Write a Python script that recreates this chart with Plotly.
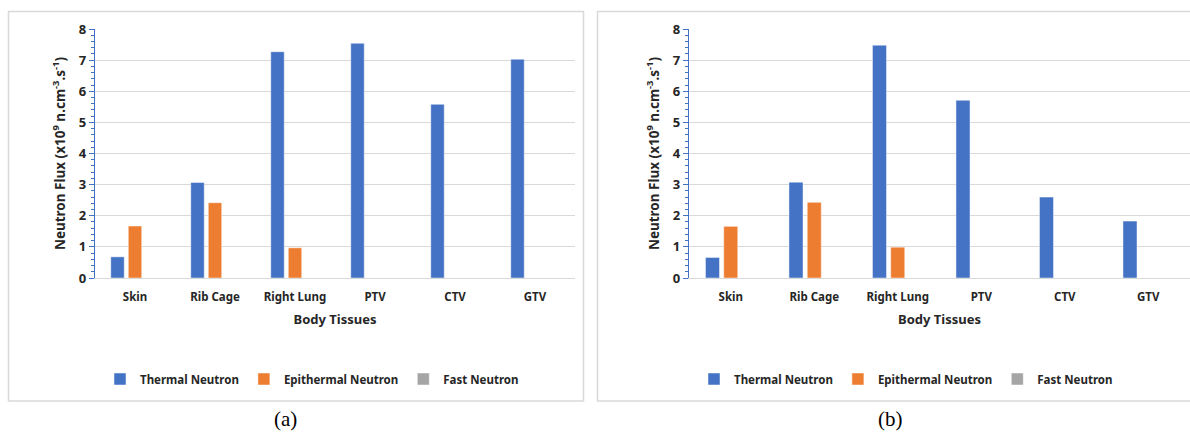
import plotly.graph_objects as go

categories = ["Skin", "Rib Cage", "Right Lung", "PTV", "CTV", "GTV"]
series_names = ["Thermal Neutron", "Epithermal Neutron", "Fast Neutron"]

a_thermal = [0.68, 3.07, 7.27, 7.54, 5.58, 7.03]
a_epithermal = [1.67, 2.42, 0.97, 0.0, 0.0, 0.0]
a_fast = [0.0, 0.0, 0.0, 0.0, 0.0, 0.0]

b_thermal = [0.66, 3.08, 7.48, 5.71, 2.60, 1.83]
b_epithermal = [1.66, 2.43, 0.99, 0.0, 0.0, 0.0]
b_fast = [0.0, 0.0, 0.0, 0.0, 0.0, 0.0]

colors = ["#4472C4", "#ED7D31", "#A5A5A5"]
W, H = 1190, 432

fig = go.Figure()

panels = [
    ("x", "y", "legend", [a_thermal, a_epithermal, a_fast]),
    ("x2", "y2", "legend2", [b_thermal, b_epithermal, b_fast]),
]
for xa, ya, lg, vals in panels:
    for name, v, c in zip(series_names, vals, colors):
        fig.add_trace(go.Bar(
            x=categories, y=v, name=name, xaxis=xa, yaxis=ya, legend=lg,
            marker=dict(color=c, line=dict(color="rgba(255,255,255,0.6)", width=0.8)),
            hoverinfo="x+y+name",
        ))

font_main = "Noto Sans"

def px_x(p):
    return p / W

def px_y(p):
    return 1 - p / H

ytitle = "Neutron Flux (x10<sup>9</sup> n.cm<sup>-3</sup>.s<sup>-1</sup>)"

def xaxis_cfg(x0, x1, anchor):
    return dict(
        domain=[px_x(x0), px_x(x1)], anchor=anchor, automargin=False,
        showgrid=False, showline=True, linecolor="#d9d9d9", linewidth=1,
        ticks="", ticklabelstandoff=8,
        tickfont=dict(family=font_main, size=11.5, color="#262626", weight="bold"),
        title=dict(text="Body Tissues", standoff=12,
                   font=dict(family=font_main, size=13, color="#262626", weight="bold")),
        fixedrange=True,
    )

def yaxis_cfg(anchor):
    return dict(
        domain=[px_y(278), px_y(29)], anchor=anchor, automargin=False,
        range=[0, 8], dtick=1, showgrid=True, gridcolor="#d9d9d9", gridwidth=1,
        zeroline=False, showline=True, linecolor="#4472C4", linewidth=1.2,
        ticks="outside", ticklen=5, tickcolor="#4472C4", tickwidth=1,
        minor=dict(dtick=0.2, ticks="outside", ticklen=3, tickcolor="#4472C4", showgrid=False),
        tickfont=dict(family=font_main, size=13, color="#262626", weight="bold"),
        title=dict(text=ytitle, standoff=10,
                   font=dict(family=font_main, size=13.5, color="#262626", weight="bold")),
        fixedrange=True,
    )

legend_common = dict(
    orientation="h", yanchor="middle", xanchor="left",
    font=dict(family=font_main, size=11.5, color="#262626", weight="bold"),
    itemwidth=30, bgcolor="rgba(0,0,0,0)", itemclick=False, itemdoubleclick=False,
)

fig.update_layout(
    width=W, height=H,
    margin=dict(l=0, r=0, t=0, b=0, autoexpand=False),
    paper_bgcolor="white", plot_bgcolor="white",
    barmode="group", bargap=0.344, bargroupgap=0.23,
    showlegend=True,
    xaxis=xaxis_cfg(95, 575, "y"),
    yaxis=yaxis_cfg("x"),
    xaxis2=xaxis_cfg(689, 1190, "y2"),
    yaxis2=yaxis_cfg("x2"),
    legend=dict(x=px_x(100), y=px_y(379), **legend_common),
    legend2=dict(x=px_x(694), y=px_y(379), **legend_common),
    shapes=[
        dict(type="rect", xref="paper", yref="paper",
             x0=px_x(8.5), x1=px_x(583.5), y0=px_y(401), y1=px_y(11.5),
             line=dict(color="#d9d9d9", width=1.5), layer="below"),
        dict(type="rect", xref="paper", yref="paper",
             x0=px_x(597.5), x1=px_x(1200), y0=px_y(401), y1=px_y(11.5),
             line=dict(color="#d9d9d9", width=1.5), layer="below"),
    ],
    annotations=[
        dict(text="(a)", xref="paper", yref="paper", x=px_x(285), y=px_y(419),
             showarrow=False, xanchor="center", yanchor="middle",
             font=dict(family="Liberation Serif", size=21, color="black")),
        dict(text="(b)", xref="paper", yref="paper", x=px_x(890), y=px_y(419),
             showarrow=False, xanchor="center", yanchor="middle",
             font=dict(family="Liberation Serif", size=21, color="black")),
    ],
)

fig.write_html(
    "out.html",
    config={"displayModeBar": False},
    post_script="document.body.style.margin='0';document.body.style.overflow='hidden';",
)
